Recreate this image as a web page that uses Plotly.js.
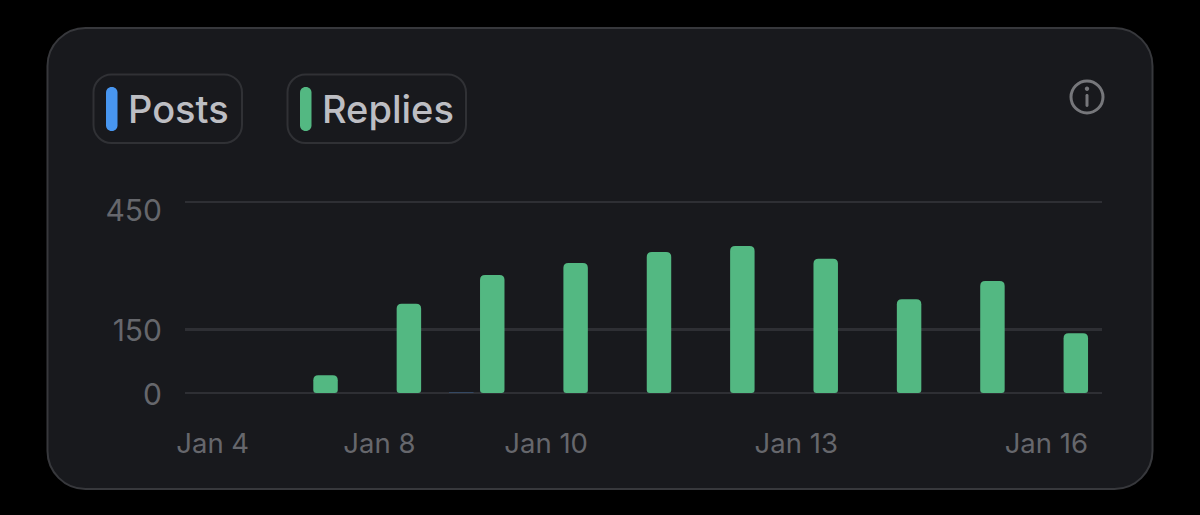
<!DOCTYPE html>
<html><head><meta charset="utf-8">
<script src="https://cdn.plot.ly/plotly-3.0.1.min.js"></script>
<style>html,body{margin:0;padding:0;background:#000;overflow:hidden}#c{width:1200px;height:515px}</style>
</head><body><div id="c"></div>
<script>
const categories=["Jan 4","Jan 7","Jan 8","Jan 9","Jan 10","Jan 11","Jan 12","Jan 13","Jan 14","Jan 15","Jan 16"];
const posts=[0,0,0,1,0,0,0,0,0,0,0];
const replies=[0,42,210,278,306,332,346,316,221,264,141];
const xTicks=["Jan 4","Jan 8","Jan 10","Jan 13","Jan 16"];
const yTicks=[0,150,450];
const seriesNames=["Posts","Replies"];
const seriesColors=["#4896f0","#53b882"];

const W=1200,H=515,L=185,R=1102,T=199,B=393;
const px=x=>(x-L)/(R-L), py=y=>(B-y)/(B-T);
function rr(x0,y0,x1,y1,r){
  const k=r*0.45;
  const P=(x,y)=>px(x).toFixed(5)+","+py(y).toFixed(5);
  return "M"+P(x0+r,y0)+" L"+P(x1-r,y0)+" C"+P(x1-k,y0)+" "+P(x1,y0+k)+" "+P(x1,y0+r)+
    " L"+P(x1,y1-r)+" C"+P(x1,y1-k)+" "+P(x1-k,y1)+" "+P(x1-r,y1)+
    " L"+P(x0+r,y1)+" C"+P(x0+k,y1)+" "+P(x0,y1-k)+" "+P(x0,y1-r)+
    " L"+P(x0,y0+r)+" C"+P(x0,y0+k)+" "+P(x0+k,y0)+" "+P(x0+r,y0)+" Z";
}
const sh=(path,fill,line,w)=>({type:"path",xref:"paper",yref:"paper",layer:"below",path,fillcolor:fill,line:{color:line,width:w}});
const shapes=[
  sh(rr(47.5,28,1152.5,489,38),"#18191d","#37383c",2),
  sh(rr(93.5,74.5,242,143,18),"#18191d","#303135",2),
  sh(rr(287.5,74.5,466,143,18),"#18191d","#303135",2),
  sh(rr(106,87,117.5,131,5.5),seriesColors[0],"rgba(0,0,0,0)",0),
  sh(rr(300,87,311.5,131,5.5),seriesColors[1],"rgba(0,0,0,0)",0),
  sh(rr(1071,81,1103,113,16),"rgba(0,0,0,0)","#76777b",3),
  sh(rr(1084.8,86.5,1089.2,91,2.2),"#76777b","rgba(0,0,0,0)",0),
  sh(rr(1085.5,94,1088.5,107,1.4),"#76777b","rgba(0,0,0,0)",0)
];
const ann=(text,x)=>({text,xref:"paper",yref:"paper",x:px(x),y:py(109),xanchor:"left",yanchor:"middle",showarrow:false,
  font:{family:"Inter, 'Noto Sans', sans-serif",size:38,weight:500,color:"#bdbec3"}});

Plotly.newPlot("c",[
  {type:"bar",name:seriesNames[0],x:categories,y:posts,marker:{color:seriesColors[0],opacity:0.6}},
  {type:"bar",name:seriesNames[1],x:categories,y:replies,marker:{color:seriesColors[1],cornerradius:5}}
],{
  width:W,height:H,autosize:false,
  margin:{l:L,r:W-R,t:T,b:H-B,pad:0},
  paper_bgcolor:"#000",plot_bgcolor:"rgba(0,0,0,0)",
  showlegend:false,barmode:"group",bargap:0.257,bargroupgap:0.21,
  font:{family:"Inter, 'Noto Sans', sans-serif",color:"#66676c"},
  xaxis:{type:"category",categoryorder:"array",categoryarray:categories,range:[-0.5,10.5],
    tickmode:"array",tickvals:xTicks,ticktext:xTicks,showgrid:false,zeroline:false,showline:false,
    ticks:"outside",ticklen:26,tickcolor:"rgba(0,0,0,0)",ticklabelshift:-14,
    tickfont:{size:27.5,color:"#66676c"},tickangle:0},
  yaxis:{range:[0,457],tickmode:"array",tickvals:yTicks,ticktext:yTicks.map(String),
    showgrid:true,gridcolor:"#2e2f34",gridwidth:2.5,zeroline:true,zerolinecolor:"#2e2f34",zerolinewidth:2.5,showline:false,
    ticks:"outside",ticklen:16,tickcolor:"rgba(0,0,0,0)",tickfont:{size:30,color:"#66676c"}},
  shapes,
  annotations:[ann(seriesNames[0],126),ann(seriesNames[1],320)]
},{displayModeBar:false,staticPlot:true}).then(()=>{
  // reference places the top label below its gridline, and rounds the foot of each bar
  document.querySelectorAll(".ytick text").forEach(t=>{
    const y=parseFloat(t.getAttribute("y")||0);
    t.setAttribute("y",y+(t.textContent==="450"?9:1));
  });
  document.querySelectorAll(".trace.bars .point path").forEach(p=>{
    const b=p.getBBox();
    if(b.height<5||b.width<5) return;
    const x0=b.x,x1=b.x+b.width,y0=b.y,y1=b.y+b.height,r=5,s=3;
    p.setAttribute("d",`M${x0},${y0+r}Q${x0},${y0} ${x0+r},${y0}H${x1-r}Q${x1},${y0} ${x1},${y0+r}V${y1-s}Q${x1},${y1} ${x1-s},${y1}H${x0+s}Q${x0},${y1} ${x0},${y1-s}Z`);
  });
});
</script></body></html>
